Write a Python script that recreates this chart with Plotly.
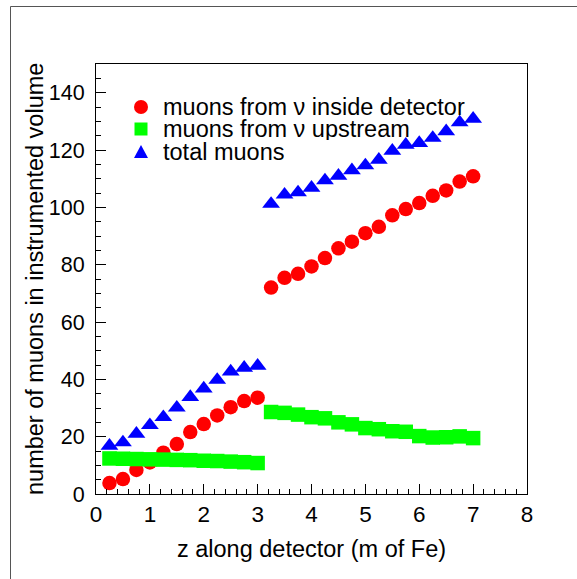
import plotly.graph_objects as go

z = [0.25, 0.5, 0.75, 1.0, 1.25, 1.5, 1.75, 2.0, 2.25, 2.5, 2.75, 3.0,
     3.25, 3.5, 3.75, 4.0, 4.25, 4.5, 4.75, 5.0, 5.25, 5.5, 5.75, 6.0,
     6.25, 6.5, 6.75, 7.0]
inside = [3.8, 5.2, 8.4, 11.0, 14.4, 17.4, 21.6, 24.4, 27.4, 30.3, 32.4, 33.6,
          72.0, 75.4, 76.8, 79.4, 82.3, 85.7, 88.0, 91.0, 93.2, 97.2, 99.4, 101.5,
          104.0, 105.9, 109.0, 110.8]
upstream = [12.4, 12.3, 12.2, 12.1, 12.0, 11.9, 11.8, 11.6, 11.5, 11.3, 11.1, 10.8,
            28.6, 28.3, 27.7, 26.8, 26.4, 25.0, 24.3, 23.0, 22.6, 21.9, 21.7, 20.2,
            19.7, 19.8, 20.1, 19.5]
total = [16.8, 18.0, 21.0, 24.0, 26.8, 30.1, 33.8, 36.8, 39.8, 42.7, 44.0, 44.7,
         101.2, 104.4, 105.2, 106.8, 109.4, 111.0, 112.9, 114.6, 116.6, 119.7, 121.8, 122.4,
         124.2, 126.5, 129.6, 130.9]

names = ["muons from \u03bd inside detector", "muons from \u03bd upstream", "total muons"]
colors = ["#ff0000", "#00ff00", "#0000ff"]
symbols = ["circle", "square", "triangle-up"]
sizes = [14.5, 14.5, 15.5]

FONT = "Liberation Sans, Arial, Helvetica, sans-serif"

fig = go.Figure()
for ys, nm, c, s, sz in zip([inside, upstream, total], names, colors, symbols, sizes):
    fig.add_trace(go.Scatter(x=z, y=ys, mode="markers", name=nm, showlegend=False,
                             marker=dict(color=c, symbol=s, size=sz, line=dict(width=0))))

W, H = 577, 579
L, R, T, B = 96, 50, 64, 85
pw, ph = W - L - R, H - T - B


def px(x):
    return (x - L) / pw


def py(y):
    return (H - B - y) / ph


# manual legend
leg_rows = [107, 129, 152]
shapes = []
# canvas border (top & left visible)
shapes.append(dict(type="line", xref="paper", yref="paper",
                   x0=px(10.5), x1=px(577), y0=py(6.5), y1=py(6.5),
                   line=dict(color="#555555", width=1), layer="below"))
shapes.append(dict(type="line", xref="paper", yref="paper",
                   x0=px(10.5), x1=px(10.5), y0=py(6.5), y1=py(579),
                   line=dict(color="#555555", width=1), layer="below"))
mx = px(141)
shapes.append(dict(type="circle", xref="paper", yref="paper", xsizemode="pixel", ysizemode="pixel",
                   xanchor=mx, yanchor=py(leg_rows[0]), x0=-7, x1=7, y0=-7, y1=7,
                   fillcolor=colors[0], line=dict(width=0)))
shapes.append(dict(type="rect", xref="paper", yref="paper", xsizemode="pixel", ysizemode="pixel",
                   xanchor=mx, yanchor=py(leg_rows[1]), x0=-6.5, x1=6.5, y0=-6.5, y1=6.5,
                   fillcolor=colors[1], line=dict(width=0)))
shapes.append(dict(type="path", xref="paper", yref="paper", xsizemode="pixel", ysizemode="pixel",
                   xanchor=mx, yanchor=py(leg_rows[2]), path="M -7,-6 L 7,-6 L 0,7 Z",
                   fillcolor=colors[2], line=dict(width=0)))

annotations = []
for r, nm in zip(leg_rows, names):
    annotations.append(dict(x=px(161), y=py(r), xref="paper", yref="paper", text=nm,
                            showarrow=False, xanchor="left", yanchor="middle",
                            height=22, valign="middle",
                            font=dict(size=23.5, color="black", family=FONT)))
# y-axis title
annotations.append(dict(x=px(35), y=0.5, xref="paper", yref="paper",
                        text="number of muons in instrumented volume", textangle=-90,
                        showarrow=False, xanchor="center", yanchor="middle",
                        font=dict(size=23.5, color="black", family=FONT)))

fig.update_layout(
    width=W, height=H,
    margin=dict(l=L, r=R, t=T, b=B, autoexpand=False),
    paper_bgcolor="white", plot_bgcolor="white",
    font=dict(family=FONT, size=22, color="black"),
    shapes=shapes, annotations=annotations,
    showlegend=False,
)
fig.update_xaxes(range=[0, 8], tick0=0, dtick=1, ticks="inside", ticklen=10, tickwidth=1,
                 tickcolor="black", showline=True, linecolor="black", linewidth=1, mirror=True,
                 showgrid=False, zeroline=False, ticklabelstandoff=0,
                 tickfont=dict(size=22.5),
                 minor=dict(dtick=0.2, ticks="inside", ticklen=5, tickcolor="black", showgrid=False),
                 title=dict(text="z along detector (m of Fe)", font=dict(size=23.5), standoff=14))
fig.update_yaxes(range=[0, 150], tick0=0, dtick=20, ticks="inside", ticklen=10, tickwidth=1,
                 tickcolor="black", showline=True, linecolor="black", linewidth=1, mirror=True,
                 showgrid=False, zeroline=False, ticklabelstandoff=6,
                 tickfont=dict(size=21.5),
                 minor=dict(dtick=5, ticks="inside", ticklen=5, tickcolor="black", showgrid=False))

fig.write_html("out.html")
